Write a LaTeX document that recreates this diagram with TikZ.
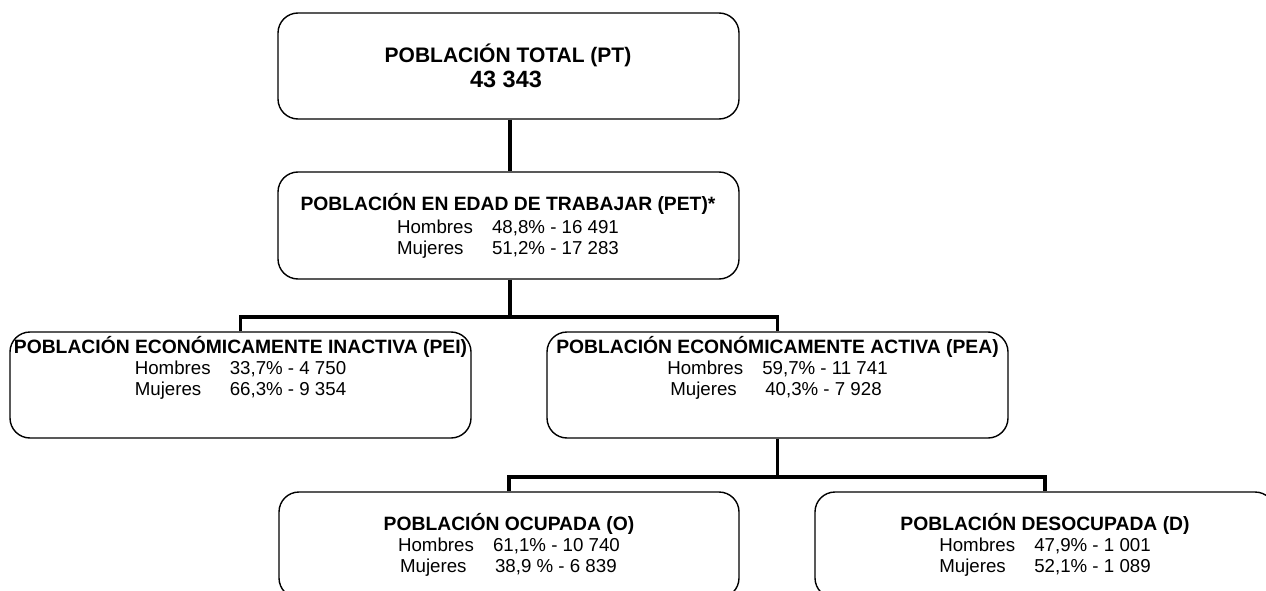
\documentclass[tikz,border=0pt]{standalone}
\usepackage{fontspec}
\setmainfont{Liberation Sans}
\begin{document}
\begin{tikzpicture}[x=1pt,y=-1pt,
  box/.style={draw, line width=1.4pt, rounded corners=20pt, minimum width=461pt, minimum height=106pt, inner sep=0pt},
  conn/.style={line width=3.2pt},
  ttl/.style={anchor=base, inner sep=0pt, font=\fontsize{19.3}{22}\selectfont\bfseries},
  dat/.style={anchor=base, inner sep=0pt, font=\fontsize{18.7}{21}\selectfont}]
\useasboundingbox (0,0) rectangle (1266,591);
\fill[white] (0,0) rectangle (1266,591);
\clip (0,0) rectangle (1266,591);

% boxes
\node[box] (pt)  at (508.5,66) {};
\node[box, minimum height=107pt] (pet) at (508.5,225.5) {};
\node[box] (pei) at (240.5,385) {};
\node[box] (pea) at (777.5,385) {};
\node[box, minimum width=460pt] (o) at (509,545) {};
\node[box, minimum width=460pt] (d) at (1045,545) {};

% texts
\node[anchor=base, inner sep=0pt, font=\fontsize{21}{24}\selectfont\bfseries] (ptT) at (508,63) {POBLACIÓN TOTAL (PT)};
\node[anchor=base, inner sep=0pt, font=\fontsize{23.5}{26}\selectfont\bfseries] (ptN) at (506,88) {43 343};

\node[ttl] (petT) at (508,210) {POBLACIÓN EN EDAD DE TRABAJAR (PET)*};
\node[dat] (petD) at (508,233) {\begin{tabular}[t]{@{}l@{}}\makebox[95pt][l]{Hombres}48,8\% - 16 491\\ \makebox[95pt][l]{Mujeres}51,2\% - 17 283\end{tabular}};

\node[ttl] (peiT) at (240.5,353) {POBLACIÓN ECONÓMICAMENTE INACTIVA (PEI)};
\node[dat] (peiD) at (240.5,374) {\begin{tabular}[t]{@{}l@{}}\makebox[95pt][l]{Hombres}33,7\% - 4 750\\ \makebox[95pt][l]{Mujeres}66,3\% - 9 354\end{tabular}};

\node[ttl] (peaT) at (777.5,353) {POBLACIÓN ECONÓMICAMENTE ACTIVA (PEA)};
\node[dat] (peaD) at (777.5,374) {\begin{tabular}[t]{@{}l@{}}\makebox[95pt][l]{Hombres}59,7\% - 11 741\\ \hspace*{3pt}\makebox[95pt][l]{Mujeres}40,3\% - 7 928\end{tabular}};

\node[ttl] (oT) at (509,530) {POBLACIÓN OCUPADA (O)};
\node[dat] (oD) at (509,551) {\begin{tabular}[t]{@{}l@{}}\makebox[95pt][l]{Hombres}61,1\% - 10 740\\ \hspace*{2pt}\makebox[95pt][l]{Mujeres}38,9 \% - 6 839\end{tabular}};

\node[ttl] (dT) at (1045,530) {POBLACIÓN DESOCUPADA (D)};
\node[dat] (dD) at (1045,551) {\begin{tabular}[t]{@{}l@{}}\makebox[95pt][l]{Hombres}47,9\% - 1 001\\ \makebox[95pt][l]{Mujeres}52,1\% - 1 089\end{tabular}};

% connectors
\coordinate (bar1) at (510,317);
\coordinate (bar2) at (777.5,477);
\draw[conn] (pt.south -| bar1) -- (pet.north -| bar1);
\draw[conn] (pet.south -| bar1) -- (bar1);
\draw[conn] (pei.north) -- (pei.north |- bar1) -- (pea.north |- bar1) -- (pea.north);
\draw[conn] (pea.south) -- (bar2);
\draw[conn] (o.north) -- (o.north |- bar2) -- (d.north |- bar2) -- (d.north);
\end{tikzpicture}
\end{document}
